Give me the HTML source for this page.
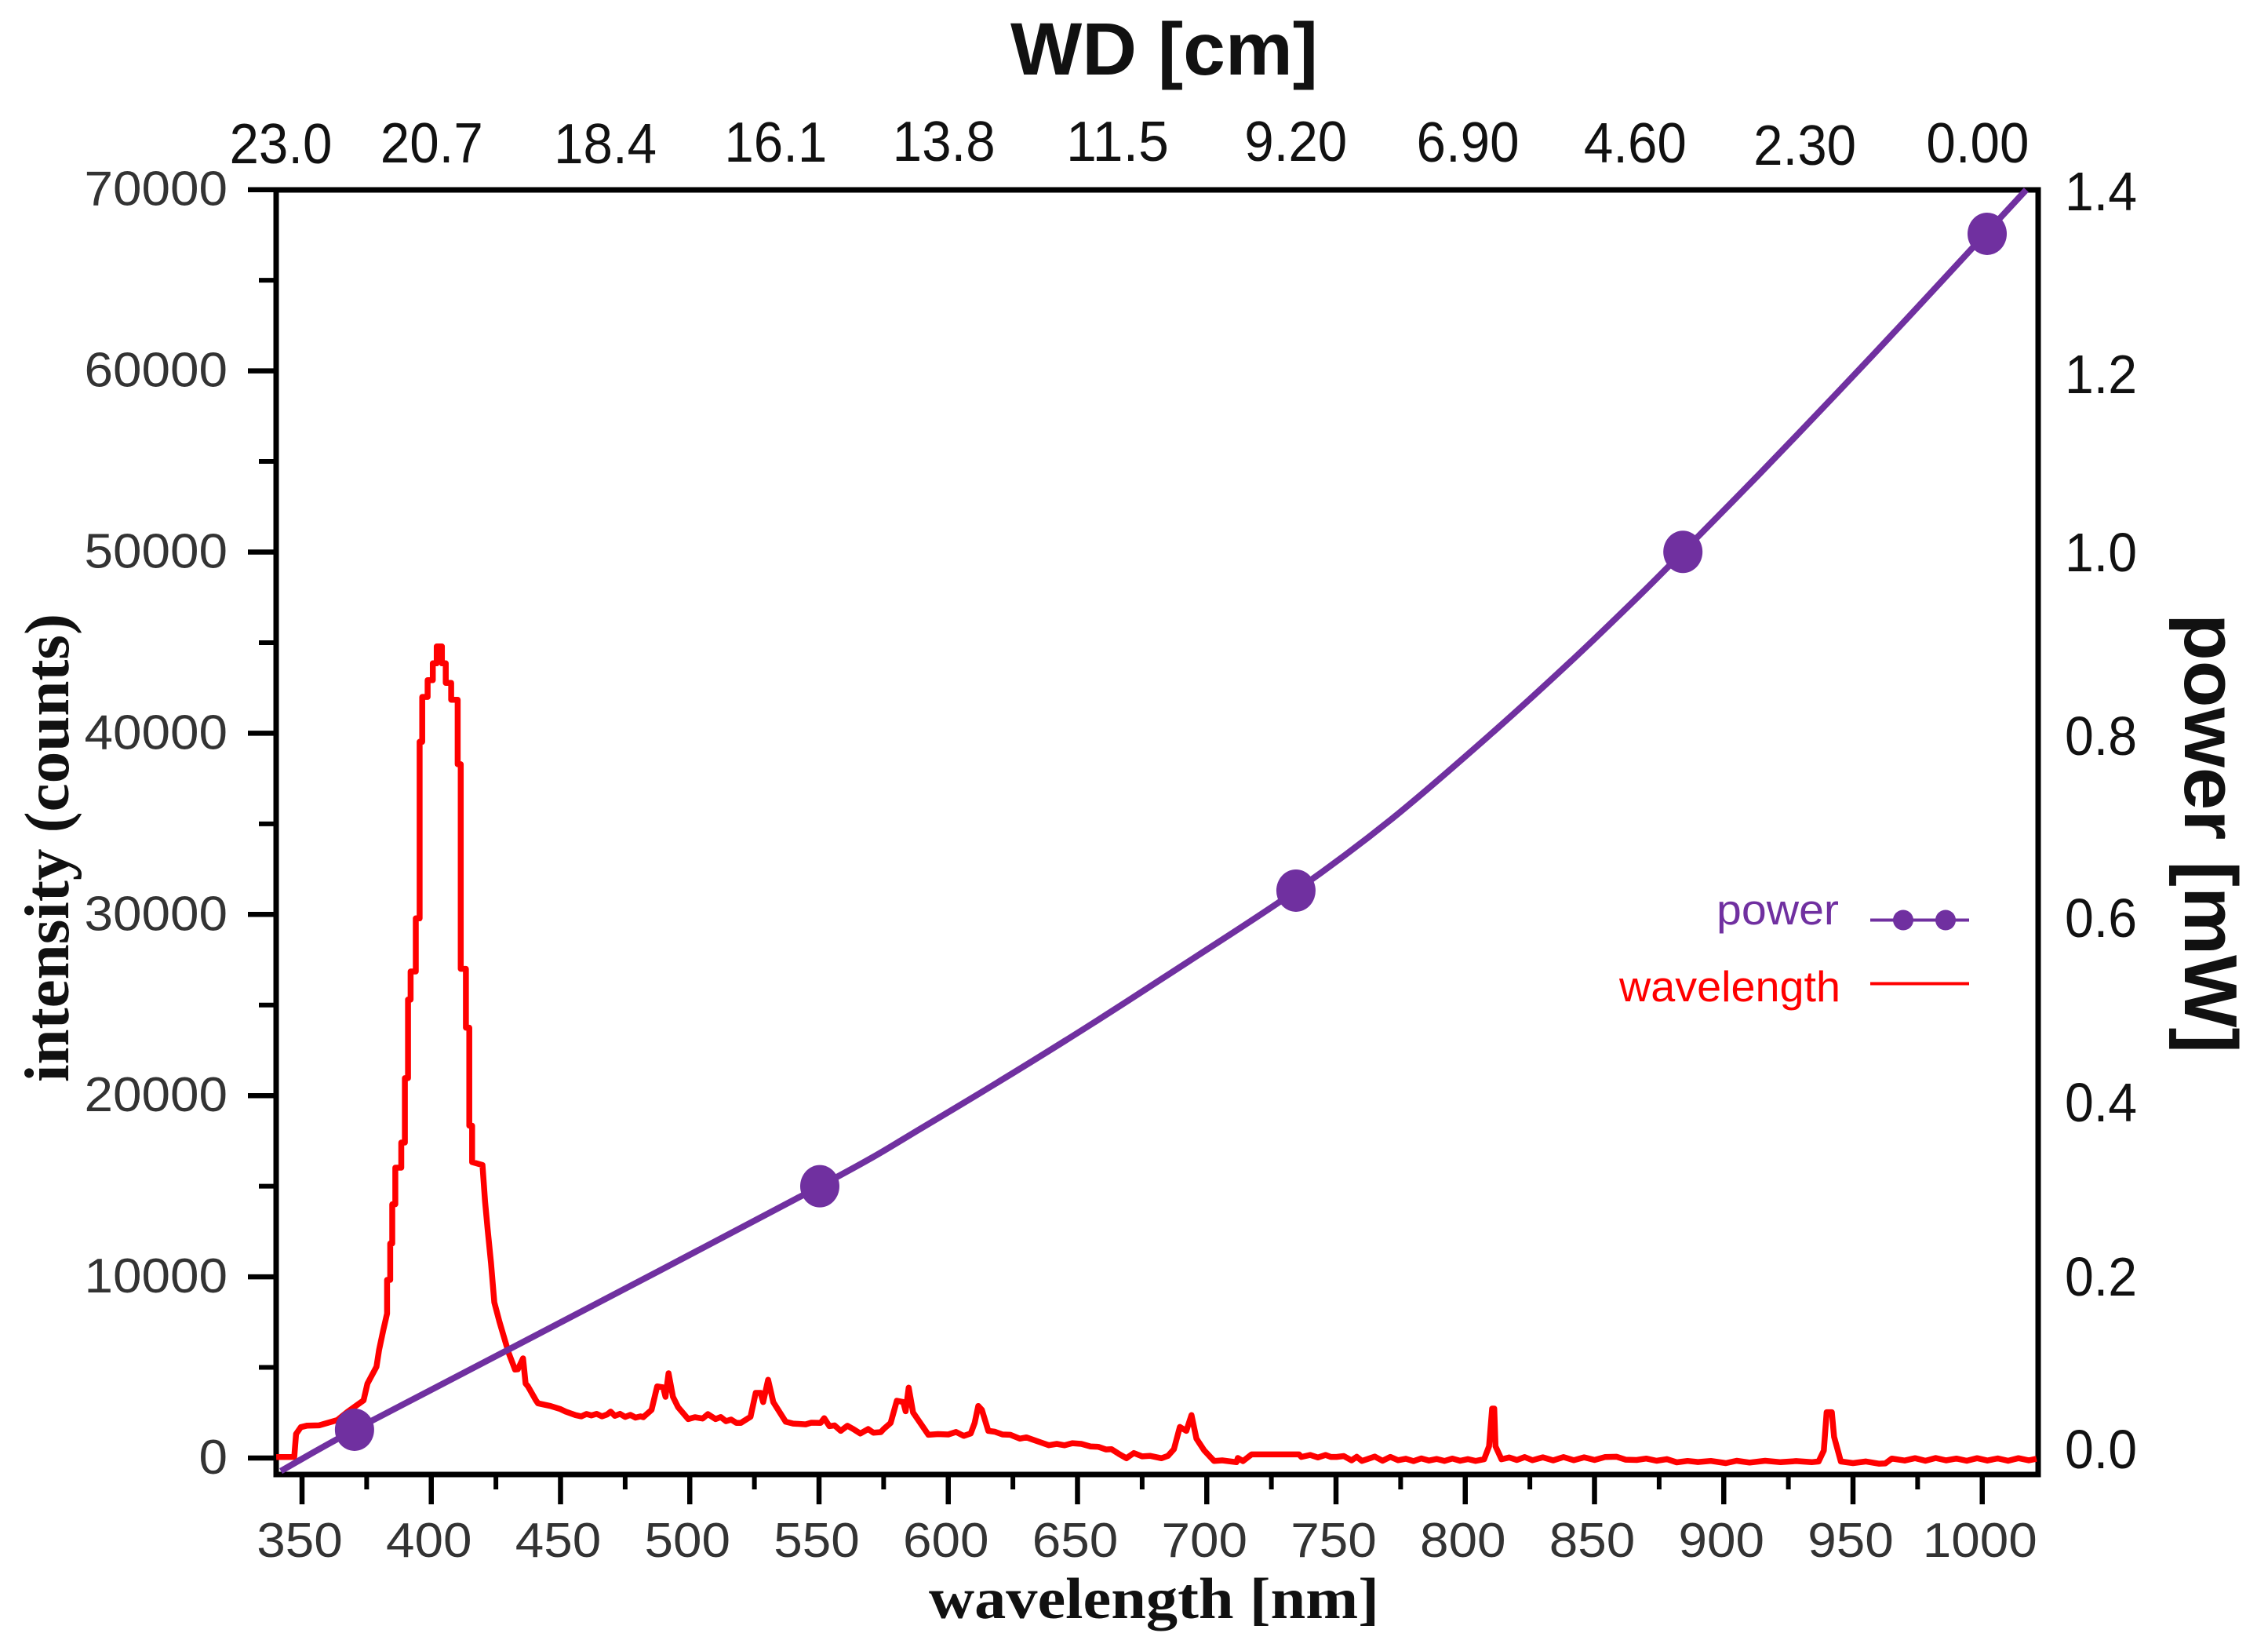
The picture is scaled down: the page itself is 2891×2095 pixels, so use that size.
<!DOCTYPE html>
<html lang="en">
<head>
<meta charset="utf-8">
<title>Intensity and power vs wavelength and WD</title>
<style>
html,body{margin:0;padding:0;background:#fff;width:2891px;height:2095px;overflow:hidden}
svg{display:block}
text{font-family:"Liberation Sans",sans-serif}
</style>
</head>
<body>
<svg id="chart" xmlns="http://www.w3.org/2000/svg" width="2891" height="2095" viewBox="0 0 2891 2095">
  <rect x="0" y="0" width="2891" height="2095" fill="#fff"/>
  <rect x="352" y="242" width="2246" height="1637" fill="none" stroke="#000" stroke-width="7"/>
  <g id="ticks"></g>
  <g id="labels"></g>
  <g id="series"></g>
  <text x="1288" y="95" font-size="95" font-weight="700" fill="#111" textLength="392" lengthAdjust="spacingAndGlyphs">WD [cm]</text>
  <text x="1184" y="2062" font-size="74" font-weight="700" fill="#111" style="font-family:'Liberation Serif',serif" textLength="574" lengthAdjust="spacingAndGlyphs">wavelength [nm]</text>
  <text transform="translate(87,1379) rotate(-90)" font-size="80" font-weight="700" fill="#111" style="font-family:'Liberation Serif',serif" textLength="597" lengthAdjust="spacingAndGlyphs">intensity (counts)</text>
  <text transform="translate(2785,782) rotate(90)" font-size="96" font-weight="700" fill="#111" textLength="560" lengthAdjust="spacingAndGlyphs">power [mW]</text>
  <g>
    <text x="2188" y="1178" font-size="55" fill="#7030a0" textLength="156" lengthAdjust="spacingAndGlyphs">power</text>
    <line x1="2384" y1="1172.5" x2="2510" y2="1172.5" stroke="#7030a0" stroke-width="4"/>
    <circle cx="2426" cy="1172.5" r="13" fill="#7030a0"/>
    <circle cx="2480" cy="1172.5" r="13" fill="#7030a0"/>
    <text x="2064" y="1276" font-size="55" fill="#ff0000" textLength="282" lengthAdjust="spacingAndGlyphs">wavelength</text>
    <line x1="2384" y1="1253.5" x2="2510" y2="1253.5" stroke="#ff0000" stroke-width="4"/>
  </g>
</svg>
<script>
// ---- chart data ----
const wavelengthTicks = [350,400,450,500,550,600,650,700,750,800,850,900,950,1000];
const wavelengthMinorTicks = [375,425,475,525,575,625,675,725,775,825,875,925,975];
const intensityTicks = [0,10000,20000,30000,40000,50000,60000,70000];
const intensityMinorTicks = [5000,15000,25000,35000,45000,55000,65000];
const powerTicks = ["0.0","0.2","0.4","0.6","0.8","1.0","1.2","1.4"];
const wdTicks = ["23.0","20.7","18.4","16.1","13.8","11.5","9.20","6.90","4.60","2.30","0.00"];

const spectrumNm = [
340,347,347.7,349.5,352,356.6,363.7,367.7,373.8,375.3,
378.8,379.8,381.4,
382.9,382.9,384.1,384.1,384.9,384.9,386.1,386.1,388.4,388.4,389.8,389.8,391,391,392,392,394,394,
395.5,395.5,396.5,396.5,398.6,398.6,400.6,400.6,402.1,402.1,404.1,404.1,
405.6,405.6,407.7,407.7,410.2,410.2,411.4,411.4,413.4,413.4,414.7,414.7,415.8,415.8,
419.8,420.8,421.8,423.1,424.4,426.4,429.9,432.4,433.5,435.5,
436.5,437.4,440.5,441.3,446.1,450,452,455.8,458,460,
462,464,466,468,469.4,471,473,475,477,479,
481,482,485.2,487.4,489.7,490.6,491.8,493.5,495.5,499.4,
502,505,507,510,512,514,516,518,519.7,523.5,
525.5,527.4,528.4,530.3,532.3,537.1,540,544.8,547,550.6,
552,554,556,558.4,561,563,566,569,571,573.9,
575,577.7,580.1,582.6,583.5,584.7,586.4,592.3,596,600,
603,606,608.7,610.2,611.6,613,615.5,618,621,624,
627.7,630.2,633,636,638.9,642,645,648,651.5,655,
658,661,663.1,666,668.9,670,671.8,675,678,682.5,
685,687.3,689.6,692.1,694.1,696,699,702.8,706,711.5,
712,714,717.3,722,735.7,736.6,740,743,746,748,
750.2,753,756,758,760,762,765,768,771,774,
777,780,783,786,789,792,795,798,801,804,
807.3,809.2,810.4,811.2,811.7,814,817,820,823,826,
830,834,838,842,846,850,854,858.6,862,866.3,
870,874,878,881.8,886,890,895,900.8,905,910,
916,922,928,934,936.7,938.7,939.8,941.8,942.7,945.3,
950,955,960,962.5,965,970,974,978,982,986,
990,994,998,1002,1006,1010,1014,1018,1021
];
const spectrumCounts = [
50,60,1325,1700,1790,1800,2096,2560,3180,4110,
5037,5964,7046,
7975,9831,9831,11841,11841,14006,14006,16025,16025,17410,17410,20966,20966,25300,25300,26852,26852,29784,
29784,39530,39530,42005,42005,42933,42933,43860,43860,44790,44790,43860,
43860,42780,42780,41850,41850,38290,38290,27000,27000,23750,23750,18340,18340,16330,
16170,14160,12620,10760,8590,7510,5810,4880,4900,5500,
4110,3955,3180,3018,2873,2700,2560,2368,2300,2430,
2350,2440,2300,2400,2560,2330,2440,2270,2380,2230,
2300,2252,2655,3955,3900,3378,4677,3378,2800,2150,
2250,2180,2420,2150,2260,2030,2120,1940,1935,2280,
3595,3595,3090,4316,3090,2007,1900,1860,1950,1935,
2200,1760,1800,1500,1780,1620,1350,1600,1400,1430,
1600,1935,3160,3090,2580,3885,2512,1284,1320,1300,
1440,1220,1357,1935,2873,2655,1500,1450,1300,1280,
1068,1140,1000,850,707,780,700,820,780,640,
620,470,490,230,-13,100,275,90,120,-13,
120,490,1717,1500,2368,1068,420,-160,-130,-230,
0,-170,200,200,200,60,170,30,170,60,
60,110,-130,70,-160,-70,80,-150,60,-120,
-40,-170,-20,-140,-50,-160,-30,-150,-60,-160,
-70,650,2728,2728,650,-70,30,-110,50,-120,
40,-130,50,-120,40,-110,50,70,-90,-110,
-30,-150,-60,-240,-160,-220,-160,-280,-150,-250,
-150,-230,-170,-230,-190,411,2530,2530,1170,-190,
-280,-190,-310,-300,-30,-140,-10,-150,0,-130,
-30,-150,-10,-140,-20,-150,-10,-130,-40
];

const powerCurveNm = [341.8,370.3,430.4,550.3,591,645,692.3,734.5,771.2,808.6,840.4,867.2,884.2,913.9,944.2,971.5,1001.9,1017];
const powerCurveMw = [-0.025,0.021,0.111,0.292,0.359,0.4535,0.541,0.621,0.700,0.792,0.875,0.949,0.998,1.085,1.176,1.2595,1.354,1.401];
const powerMarkerNm = [370.3,550.3,734.5,884.2,1001.9];
const powerMarkerMw = [0.021,0.292,0.621,0.998,1.352];

// ---- axis functions ----
function xNm(v){ return 385 + (v - 350) * 3.295; }
function yCounts(v){ return 1858 - v * 0.02309; }
function yPower(v){ return 1846 - v * 1145; }
function xWd(v){ return 358 + (23 - v) * 94.04; }

// ---- hand-placed label offsets seen in the reference (layout only) ----
const wdNudgeX = [0,-24,-19,-18,-20,-15,-4,-1,-4,-4,0];
const wdNudgeY = [1,0,1,-1,-2,-2,-2,-1,0,3,0];
const powerNudgeY = [0,9,16,10,7,2,4,0];

const NS = "http://www.w3.org/2000/svg";
const ticksG = document.getElementById("ticks");
const labelsG = document.getElementById("labels");
const seriesG = document.getElementById("series");

function make(tag, attrs, parent){
  const el = document.createElementNS(NS, tag);
  for (const k in attrs) el.setAttribute(k, attrs[k]);
  parent.appendChild(el);
  return el;
}

// bottom axis ticks and labels
wavelengthTicks.forEach(function(v){
  const t = make("line", {x1:xNm(v), x2:xNm(v), y1:1879, y2:1917, stroke:"#000", "stroke-width":6.5}, ticksG);
  
  
  const s = String(v);
  const l = make("text", {x:xNm(v)-3, y:1984, "font-size":62, fill:"#333", "text-anchor":"middle", textLength:s.length*36.5, lengthAdjust:"spacingAndGlyphs"}, labelsG);
  l.textContent = s;
  
  
});
wavelengthMinorTicks.forEach(function(v){
  const t = make("line", {x1:xNm(v), x2:xNm(v), y1:1879, y2:1898, stroke:"#000", "stroke-width":6}, ticksG);
  
  
});

// left axis ticks and labels
intensityTicks.forEach(function(v){
  const t = make("line", {x1:316, x2:352, y1:yCounts(v), y2:yCounts(v), stroke:"#000", "stroke-width":6.5}, ticksG);
  
  
  const s = String(v);
  const l = make("text", {x:290, y:yCounts(v)+20, "font-size":62, fill:"#333", "text-anchor":"end", textLength:s.length*36.5, lengthAdjust:"spacingAndGlyphs"}, labelsG);
  l.textContent = s;
  
  
});
intensityMinorTicks.forEach(function(v){
  const t = make("line", {x1:330, x2:352, y1:yCounts(v), y2:yCounts(v), stroke:"#000", "stroke-width":6}, ticksG);
  
  
});

// right axis labels
powerTicks.forEach(function(s, i){
  const l = make("text", {x:2678, y:yPower(parseFloat(s))+powerNudgeY[i]+25, "font-size":70, fill:"#111", "text-anchor":"middle", textLength:92, lengthAdjust:"spacingAndGlyphs"}, labelsG);
  l.textContent = s;
  
  
});

// top axis labels
wdTicks.forEach(function(s, i){
  const l = make("text", {x:xWd(parseFloat(s))+wdNudgeX[i], y:207+wdNudgeY[i], "font-size":72, fill:"#111", "text-anchor":"middle", textLength:131, lengthAdjust:"spacingAndGlyphs"}, labelsG);
  l.textContent = s;
  
  
});

// spectrum line
const specPts = spectrumNm.map(function(n, i){ return xNm(n).toFixed(1) + "," + yCounts(spectrumCounts[i]).toFixed(1); }).join(" ");
const specLine = make("polyline", {points:specPts, fill:"none", stroke:"#ff0000", "stroke-width":7.5, "stroke-linejoin":"round"}, seriesG);



// power fit curve (Catmull-Rom through the read points)
const cp = powerCurveNm.map(function(n, i){ return [xNm(n), yPower(powerCurveMw[i])]; });
let d = "M" + cp[0][0].toFixed(1) + " " + cp[0][1].toFixed(1);
for (let i = 0; i < cp.length - 1; i++){
  const p0 = cp[Math.max(i-1,0)], p1 = cp[i], p2 = cp[i+1], p3 = cp[Math.min(i+2,cp.length-1)];
  const c1x = p1[0] + (p2[0]-p0[0])/6, c1y = p1[1] + (p2[1]-p0[1])/6;
  const c2x = p2[0] - (p3[0]-p1[0])/6, c2y = p2[1] - (p3[1]-p1[1])/6;
  d += " C" + c1x.toFixed(1) + " " + c1y.toFixed(1) + " " + c2x.toFixed(1) + " " + c2y.toFixed(1) + " " + p2[0].toFixed(1) + " " + p2[1].toFixed(1);
}
const powerPath = make("path", {d:d, fill:"none", stroke:"#7030a0", "stroke-width":8}, seriesG);



// power markers
powerMarkerNm.forEach(function(n, i){
  const m = make("ellipse", {cx:xNm(n), cy:yPower(powerMarkerMw[i]), rx:25, ry:27, fill:"#7030a0"}, seriesG);
  
  
});
</script>
</body>
</html>
